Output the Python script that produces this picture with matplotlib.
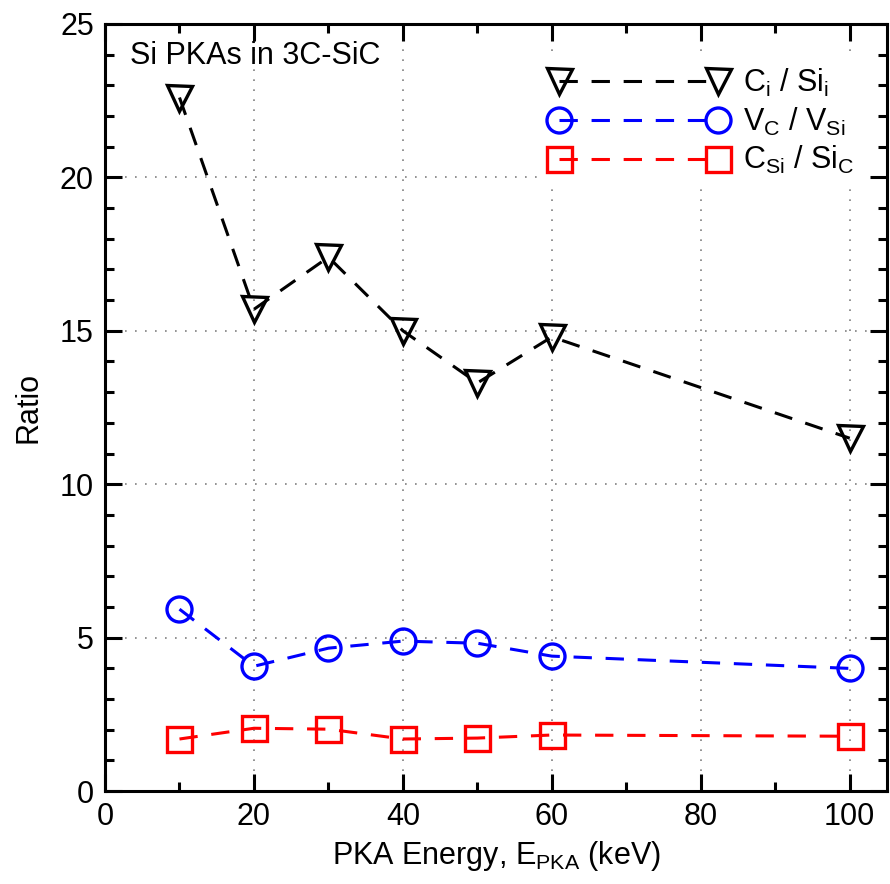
import numpy as np
import matplotlib
matplotlib.use('Agg')
from matplotlib import pyplot as plt
from matplotlib.ticker import MultipleLocator

plt.rcParams['font.family'] = ['Liberation Sans', 'DejaVu Sans']
plt.rcParams['mathtext.fontset'] = 'custom'
plt.rcParams['mathtext.rm'] = 'Liberation Sans'
plt.rcParams['mathtext.default'] = 'regular'

# data
energy = [10, 20, 30, 40, 50, 60, 100]
ci_sii = [22.6, 15.7, 17.4, 15.0, 13.3, 14.8, 11.5]
vc_vsi = [5.93, 4.07, 4.66, 4.89, 4.82, 4.40, 4.0]
csi_sic = [1.70, 2.05, 2.02, 1.70, 1.73, 1.83, 1.79]

fig = plt.figure(figsize=(8.9, 8.84), dpi=100)
ax = fig.add_axes([0.118, 0.105, 0.8786, 0.868])

kw = dict(ls='--', lw=2.2, ms=18, mew=2.4, fillstyle='none', dashes=(6, 4.5))
ax.plot(energy, ci_sii, marker='v', color='black', label='C$_{i}$ / Si$_{i}$', **kw)
ax.plot(energy, vc_vsi, marker='o', color='blue', label='V$_{C}$ / V$_{Si}$', **kw)
ax.plot(energy, csi_sic, marker='s', color='red', label='C$_{Si}$ / Si$_{C}$', **kw)

ax.set_xlim(0, 105)
ax.set_ylim(0, 25)
ax.xaxis.set_major_locator(MultipleLocator(20))
ax.xaxis.set_minor_locator(MultipleLocator(10))
ax.yaxis.set_major_locator(MultipleLocator(5))
ax.yaxis.set_minor_locator(MultipleLocator(1))
ax.tick_params(which='both', direction='in', top=True, right=True, width=2.2,
               labelsize=22, pad=8)
ax.tick_params(which='major', length=12.5)
ax.tick_params(which='minor', length=6.5)
for s in ax.spines.values():
    s.set_linewidth(2.2)
ax.grid(True, which='major', ls=(0, (1, 5)), color='gray', lw=1.2)

ax.set_xlabel('PKA Energy, E$_{PKA}$ (keV)', fontsize=22, labelpad=5)
ax.set_ylabel('Ratio', fontsize=22, labelpad=12)
ax.text(0.032, 0.978, 'Si PKAs in 3C-SiC', transform=ax.transAxes,
        fontsize=22, va='top', ha='left')

leg = ax.legend(loc='upper right', bbox_to_anchor=(1.013, 1.0), fontsize=22,
                numpoints=2, handlelength=5.8,
                frameon=True, edgecolor='none', facecolor='white', framealpha=1,
                fancybox=False, labelspacing=0.22, handletextpad=0.5,
                borderaxespad=1.0)

fig.savefig('out.png', dpi=100)
